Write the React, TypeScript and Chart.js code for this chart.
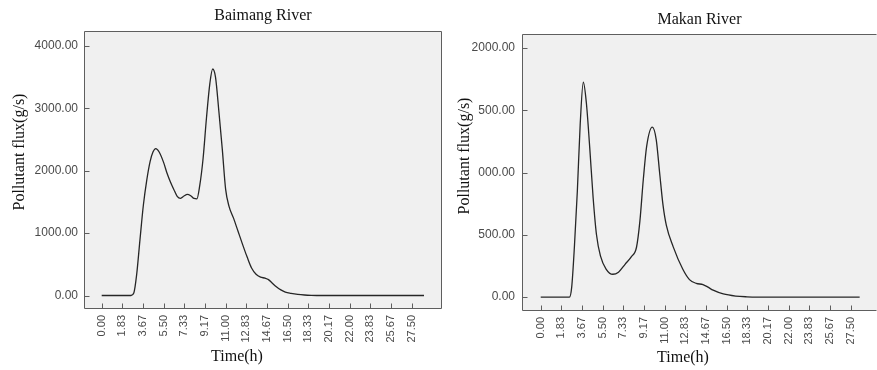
import { useEffect, useRef } from "react";
import { Chart, registerables } from "chart.js";

Chart.register(...registerables);

// ---------- data ----------
const xTickValues = [0, 1.8333, 3.6667, 5.5, 7.3333, 9.1667, 11, 12.8333, 14.6667, 16.5, 18.3333, 20.1667, 22, 23.8333, 25.6667, 27.5];
const xTickLabels = ["0.00", "1.83", "3.67", "5.50", "7.33", "9.17", "11.00", "12.83", "14.67", "16.50", "18.33", "20.17", "22.00", "23.83", "25.67", "27.50"];

const baimangTimes = [0, 1.83, 2.6, 2.85, 3.1, 3.4, 3.7, 4.0, 4.3, 4.55, 4.8, 5.1, 5.5, 5.8, 6.1, 6.4, 6.7, 7.0, 7.3, 7.6, 7.9, 8.2, 8.45, 8.7, 9.0, 9.3, 9.6, 9.85, 10.1, 10.4, 10.7, 11.0, 11.3, 11.7, 12.1, 12.5, 12.9, 13.3, 13.7, 14.1, 14.5, 14.8, 15.1, 15.5, 15.9, 16.3, 16.8, 17.4, 18.0, 18.6, 19.5, 22.0, 25.0, 28.6];
const baimangFlux = [0, 0, 0, 40, 330, 900, 1450, 1850, 2150, 2300, 2355, 2300, 2130, 1960, 1820, 1700, 1590, 1558, 1595, 1622, 1600, 1555, 1550, 1760, 2200, 2850, 3400, 3630, 3500, 2950, 2350, 1700, 1430, 1240, 1030, 820, 620, 440, 340, 295, 278, 255, 205, 140, 90, 55, 35, 18, 8, 3, 0, 0, 0, 0];

const makanTimes = [0, 1.83, 2.55, 2.75, 3.0, 3.25, 3.5, 3.78, 4.05, 4.35, 4.65, 4.95, 5.3, 5.8, 6.4, 6.9, 7.5, 8.05, 8.5, 8.8, 9.1, 9.4, 9.9, 10.25, 10.55, 10.85, 11.15, 11.75, 12.6, 13.2, 13.8, 14.4, 14.8, 15.3, 16.2, 17.3, 18.3, 19.2, 22.0, 25.0, 28.3];
const makanFlux = [0, 0, 0, 80, 420, 850, 1380, 1725, 1560, 1200, 800, 500, 330, 225, 183, 200, 265, 325, 400, 610, 940, 1210, 1365, 1265, 1000, 740, 575, 405, 225, 140, 110, 100, 82, 55, 25, 8, 2, 0, 0, 0, 0];

const baimangYTicks = [0, 1000, 2000, 3000, 4000];
const baimangYLabels = ["0.00", "1000.00", "2000.00", "3000.00", "4000.00"];
const makanYTicks = [0, 500, 1000, 1500, 2000];
const makanYLabels = ["0.00", "500.00", "000.00", "500.00", "2000.00"];

const baimangTitle = "Baimang River";
const makanTitle = "Makan River";
const xAxisTitle = "Time(h)";
const yAxisTitle = "Pollutant flux(g/s)";

// ---------- plugin: SPSS-like frame, inner ticks, axis titles ----------
const framePlugin = {
  id: "spssFrame",
  beforeDraw(chart: any, _args: any, opts: any) {
    const { ctx, chartArea: a } = chart;
    ctx.save();
    ctx.fillStyle = opts.background;
    ctx.fillRect(a.left, a.top, a.right - a.left, a.bottom - a.top);
    ctx.restore();
  },
  afterDraw(chart: any, _args: any, opts: any) {
    const { ctx, chartArea: a, scales } = chart;
    const L = Math.floor(a.left) + 0.5;
    const R = Math.ceil(a.right) - 0.5;
    const T = Math.floor(a.top) + 0.5;
    const B = Math.floor(a.bottom) + 0.5;
    ctx.save();
    ctx.strokeStyle = opts.color;
    ctx.lineWidth = 1;
    ctx.beginPath();
    ctx.moveTo(L, T);
    ctx.lineTo(R, T);
    ctx.moveTo(L, T);
    ctx.lineTo(L, B);
    ctx.lineTo(R, B);
    if (opts.rightBorder) {
      ctx.moveTo(R, T);
      ctx.lineTo(R, B);
    }
    for (const t of scales.x.ticks) {
      const px = Math.round(scales.x.getPixelForValue(t.value)) + 0.5;
      ctx.moveTo(px, B);
      ctx.lineTo(px, B - opts.tickLen);
    }
    for (const t of scales.y.ticks) {
      const py = Math.round(scales.y.getPixelForValue(t.value)) + 0.5;
      ctx.moveTo(L, py);
      ctx.lineTo(L + opts.tickLen, py);
    }
    ctx.stroke();

    ctx.fillStyle = opts.titleColor;
    ctx.font = opts.titleFont;
    ctx.textAlign = "center";
    ctx.textBaseline = "middle";
    ctx.fillText(opts.xTitle, opts.xTitleX, opts.xTitleY);
    ctx.translate(opts.yTitleX, opts.yTitleY);
    ctx.rotate(-Math.PI / 2);
    ctx.fillText(opts.yTitle, 0, 0);
    ctx.restore();
  },
};

type PanelProps = {
  left: number;
  width: number;
  title: string;
  times: number[];
  flux: number[];
  yTicks: number[];
  yLabels: string[];
  layout: any;
};

function RiverPanel(p: PanelProps) {
  const ref = useRef<HTMLCanvasElement | null>(null);
  useEffect(() => {
    if (!ref.current) return;
    const L = p.layout;
    const chart = new Chart(ref.current, {
      type: "line",
      data: {
        datasets: [
          {
            data: p.times.map((t, i) => ({ x: t, y: p.flux[i] })),
            borderColor: "#262626",
            borderWidth: 1.3,
            pointRadius: 0,
            fill: false,
            cubicInterpolationMode: "monotone",
          },
        ],
      },
      options: {
        responsive: false,
        animation: false,
        devicePixelRatio: 1,
        layout: { padding: { left: 0, right: L.padRight, top: 0, bottom: 0 } },
        plugins: {
          legend: { display: false },
          tooltip: { enabled: false },
          title: {
            display: true,
            text: p.title,
            fullSize: false,
            color: "#111",
            font: { family: "Liberation Serif", size: 16, weight: "normal" },
            padding: { top: L.titleTop, bottom: L.titleBottom },
          },
          spssFrame: {
            background: "#f0f0f0",
            color: "#5e5e5e",
            tickLen: 5,
            rightBorder: L.rightBorder,
            titleColor: "#111",
            titleFont: "16px 'Liberation Serif'",
            xTitle: xAxisTitle,
            yTitle: yAxisTitle,
            xTitleX: L.xTitleX,
            xTitleY: L.xTitleY,
            yTitleX: L.yTitleX,
            yTitleY: L.yTitleY,
          },
        } as any,
        scales: {
          x: {
            type: "linear",
            min: L.xMin,
            max: L.xMax,
            afterBuildTicks: (axis: any) => {
              axis.ticks = xTickValues.map((v) => ({ value: v }));
            },
            afterFit: (s: any) => {
              s.height = L.xAxisHeight;
            },
            grid: { display: false, drawTicks: false, tickLength: 0 },
            border: { display: false },
            ticks: {
              autoSkip: false,
              minRotation: 90,
              maxRotation: 90,
              padding: 7,
              color: "#4a4a4a",
              font: { family: "Liberation Sans", size: 11 },
              callback: (_v: any, i: number) => xTickLabels[i],
            },
          },
          y: {
            type: "linear",
            min: L.yMin,
            max: L.yMax,
            afterBuildTicks: (axis: any) => {
              axis.ticks = p.yTicks.map((v) => ({ value: v }));
            },
            afterFit: (s: any) => {
              s.width = L.yAxisWidth;
            },
            grid: { display: false, drawTicks: false, tickLength: 0 },
            border: { display: false },
            ticks: {
              padding: L.yPad,
              color: "#4a4a4a",
              font: { family: "Liberation Sans", size: 12 },
              callback: (_v: any, i: number) => p.yLabels[i],
            },
          },
        },
      },
      plugins: [framePlugin as any],
    });
    return () => chart.destroy();
  }, []);
  return (
    <canvas
      ref={ref}
      width={p.width}
      height={370}
      style={{ position: "absolute", left: p.left, top: 0, width: p.width, height: 370, display: "block" }}
    />
  );
}

export default function App() {
  return (
    <div style={{ position: "fixed", left: 0, top: 0, width: 877, height: 370, background: "#fff", overflow: "hidden" }}>
      <RiverPanel
        left={0}
        width={443}
        title={baimangTitle}
        times={baimangTimes}
        flux={baimangFlux}
        yTicks={baimangYTicks}
        yLabels={baimangYLabels}
        layout={{
          padRight: 1,
          titleTop: 6,
          titleBottom: 6,
          rightBorder: true,
          xMin: -1.57,
          xMax: 30.2,
          yMin: -200,
          yMax: 4236,
          xAxisHeight: 62,
          yAxisWidth: 84,
          yPad: 6,
          xTitleX: 237,
          xTitleY: 357,
          yTitleX: 20,
          yTitleY: 152,
        }}
      />
      <RiverPanel
        left={443}
        width={434}
        title={makanTitle}
        times={makanTimes}
        flux={makanFlux}
        yTicks={makanYTicks}
        yLabels={makanYLabels}
        layout={{
          padRight: 0,
          titleTop: 10,
          titleBottom: 5,
          rightBorder: false,
          xMin: -1.66,
          xMax: 29.84,
          yMin: -104,
          yMax: 2111,
          xAxisHeight: 60,
          yAxisWidth: 79,
          yPad: 7,
          xTitleX: 240,
          xTitleY: 358,
          yTitleX: 22,
          yTitleY: 156,
        }}
      />
    </div>
  );
}
